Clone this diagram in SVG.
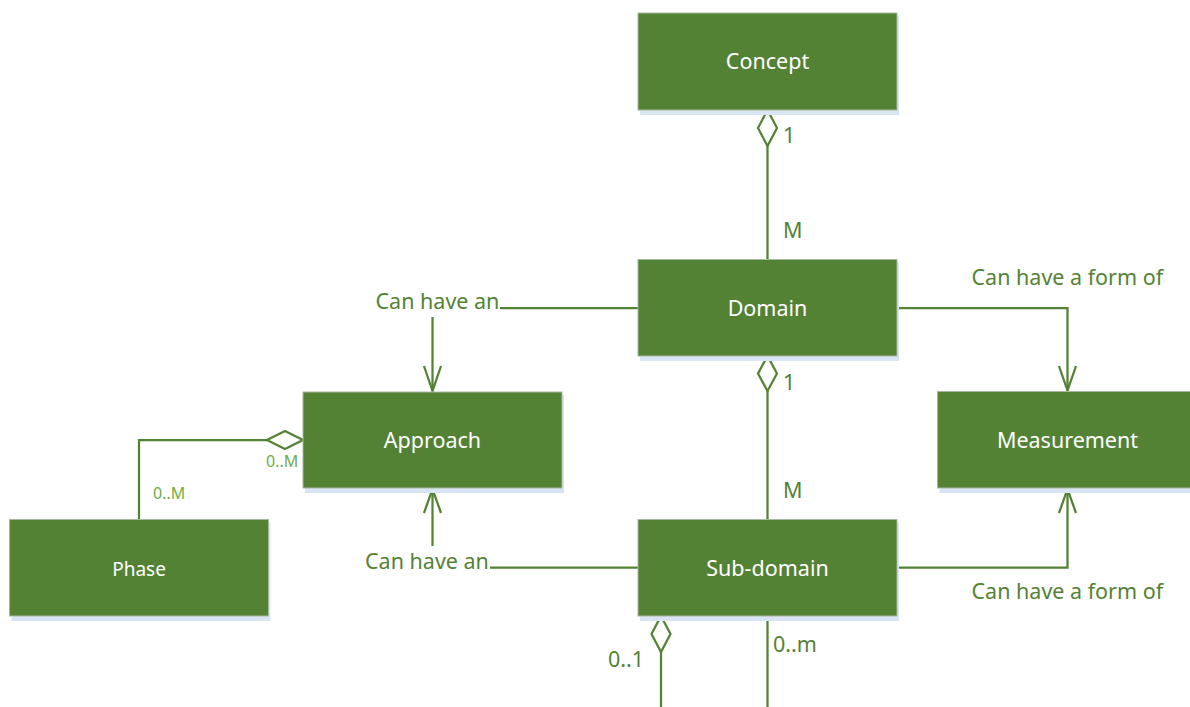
<svg xmlns="http://www.w3.org/2000/svg" width="1190" height="707" viewBox="0 0 1190 707">
  <style>
    .box { fill: #548235; stroke: #A9B8A0; stroke-width: 1; }
    .shadow { fill: #DAE5F3; }
    .name { font-family: "Noto Sans", "Liberation Sans", sans-serif; font-size: 21.5px; fill: #FFFFFF; text-anchor: middle; }
    .small { font-size: 19px; }
    .line { fill: none; stroke: #548235; stroke-width: 2.25; }
    .diamond { fill: #FFFFFF; stroke: #548235; stroke-width: 2.25; stroke-linejoin: miter; }
    .head { fill: none; stroke: #548235; stroke-width: 2.25; }
    .lbl { font-family: "Noto Sans", "Liberation Sans", sans-serif; font-size: 21.5px; fill: #548235; }
    .mult { font-family: "Noto Sans", "Liberation Sans", sans-serif; font-size: 16px; fill: #70AD47; }
  </style>

  <!-- connectors -->
  <g id="connectors">
    <!-- Concept 1 .. M Domain -->
    <line class="line" x1="767.5" y1="146" x2="767.5" y2="259.5"/>
    <polygon class="diamond" points="767.5,110 777,128 767.5,146 758,128"/>
    <text class="lbl" x="783" y="143">1</text>
    <text class="lbl" x="783" y="238">M</text>

    <!-- Domain 1 .. M Sub-domain -->
    <line class="line" x1="767.5" y1="391" x2="767.5" y2="519.5"/>
    <polygon class="diamond" points="767.5,356 777,373.5 767.5,391 758,373.5"/>
    <text class="lbl" x="783" y="390">1</text>
    <text class="lbl" x="783" y="498">M</text>

    <!-- Domain -> Approach -->
    <line class="line" x1="638" y1="308" x2="500" y2="308"/>
    <line class="line" x1="432.5" y1="317" x2="432.5" y2="391"/>
    <polyline class="head" points="424,366 432.5,391 441,366"/>
    <text class="lbl" x="375.5" y="309">Can have an</text>

    <!-- Sub-domain -> Approach -->
    <line class="line" x1="638" y1="567.7" x2="490" y2="567.7"/>
    <line class="line" x1="432.5" y1="546" x2="432.5" y2="489"/>
    <polyline class="head" points="424,513 432.5,489 441,513"/>
    <text class="lbl" x="365" y="568.7">Can have an</text>

    <!-- Domain -> Measurement -->
    <polyline class="line" points="897,308 1067.5,308 1067.5,390.5"/>
    <polyline class="head" points="1059,366 1067.5,390.5 1076,366"/>
    <text class="lbl" x="971.5" y="285">Can have a form of</text>

    <!-- Sub-domain -> Measurement -->
    <polyline class="line" points="897,567.7 1067.5,567.7 1067.5,489"/>
    <polyline class="head" points="1059,513 1067.5,489 1076,513"/>
    <text class="lbl" x="971.5" y="599.3">Can have a form of</text>

    <!-- Approach 0..M .. 0..M Phase -->
    <polyline class="line" points="139,519.5 139,440 267,440"/>
    <polygon class="diamond" points="303,440 285,431 267,440 285,449"/>
    <text class="mult" x="266" y="466.7">0..M</text>
    <text class="mult" x="153" y="499.3">0..M</text>

    <!-- Sub-domain downward links -->
    <line class="line" x1="661" y1="652" x2="661" y2="707"/>
    <polygon class="diamond" points="661,616 670.5,634 661,652 651.5,634"/>
    <text class="lbl" x="608" y="666.7">0..1</text>
    <line class="line" x1="767.5" y1="616" x2="767.5" y2="707"/>
    <text class="lbl" x="773" y="651.7">0..m</text>
  </g>

  <!-- nodes -->
  <g id="concept">
    <rect class="shadow" x="640" y="16" width="259" height="99"/>
    <rect class="box" x="638" y="13" width="259" height="97"/>
    <text class="name" x="767.5" y="69">Concept</text>
  </g>
  <g id="domain">
    <rect class="shadow" x="640" y="262.5" width="259" height="98.5"/>
    <rect class="box" x="638" y="259.5" width="259" height="96.5"/>
    <text class="name" x="767.5" y="316">Domain</text>
  </g>
  <g id="approach">
    <rect class="shadow" x="305" y="395" width="259" height="98"/>
    <rect class="box" x="303" y="392" width="259" height="96"/>
    <text class="name" x="432.5" y="447.7">Approach</text>
  </g>
  <g id="measurement">
    <rect class="shadow" x="939.5" y="394.5" width="260" height="98.5"/>
    <rect class="box" x="937.5" y="391.5" width="260" height="96.5"/>
    <text class="name" x="1067.5" y="447.7">Measurement</text>
  </g>
  <g id="phase">
    <rect class="shadow" x="11.5" y="522.5" width="259" height="98.5"/>
    <rect class="box" x="9.5" y="519.5" width="259" height="96.5"/>
    <text class="name small" x="139" y="576">Phase</text>
  </g>
  <g id="sub-domain">
    <rect class="shadow" x="640" y="522.5" width="259" height="98.5"/>
    <rect class="box" x="638" y="519.5" width="259" height="96.5"/>
    <text class="name" x="767.5" y="576">Sub-domain</text>
  </g>
</svg>
